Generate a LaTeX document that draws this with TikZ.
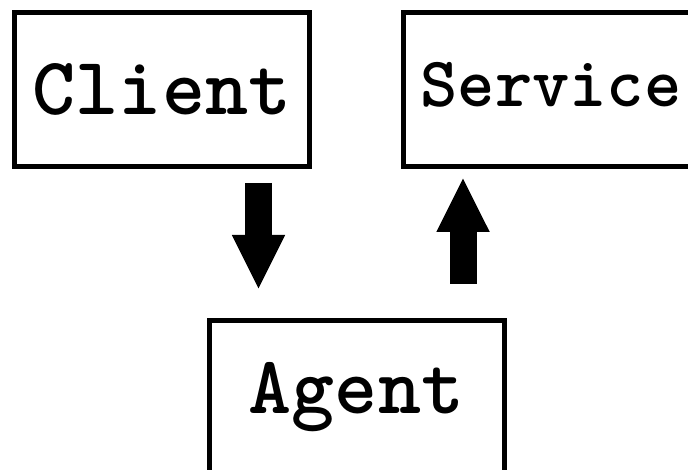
\documentclass[tikz,border=0pt]{standalone}
\usepackage{fontspec}
\usetikzlibrary{arrows.meta,positioning}

\begin{document}
\begin{tikzpicture}[
  font=\ttfamily\bfseries\fontsize{82pt}{82pt}\selectfont, node distance=89pt,
  box/.style={draw, line width=5pt, minimum width=295pt, minimum height=154pt, inner sep=0pt, text height=50pt, text depth=0pt},
  blk/.style={line width=27pt, -{Triangle[width=49pt, length=55pt]}}]
  \useasboundingbox (0,0) rectangle (688pt,-470pt);
  \node[box] (client) at (162pt,-89.5pt) {Client};
  \node[box, right=of client, font=\ttfamily\bfseries\fontsize{71pt}{71pt}\selectfont, text height=43pt, text depth=9pt] (service) {Service};
  \node[box, minimum height=160pt, text depth=25pt] (agent) at (356.5pt,-400.5pt) {Agent};
  % requests go down to the agent, and up to the service
  \draw[blk, shorten <=14pt, shorten >=28pt] ([xshift=96.5pt]client.south) -- ([xshift=96.5pt]client.south |- agent.north);
  \draw[blk, shorten <=34pt, shorten >=8pt] ([xshift=-88pt]service.south |- agent.north) -- ([xshift=-88pt]service.south);
\end{tikzpicture}
\end{document}
